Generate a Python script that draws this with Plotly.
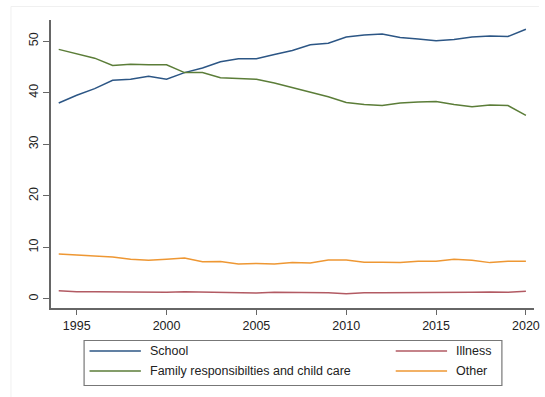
import plotly.graph_objects as go

years = list(range(1994, 2021))

school = [38.0, 39.5, 40.8, 42.4, 42.6, 43.2, 42.6, 43.9, 44.8, 46.0, 46.6, 46.6, 47.4,
          48.2, 49.3, 49.6, 50.8, 51.2, 51.4, 50.7, 50.4, 50.1, 50.3, 50.8, 51.0, 50.9, 52.3]
illness = [1.6, 1.4, 1.4, 1.35, 1.4, 1.3, 1.3, 1.4, 1.3, 1.3, 1.2, 1.15, 1.3,
           1.25, 1.25, 1.2, 1.0, 1.2, 1.2, 1.2, 1.2, 1.25, 1.25, 1.3, 1.35, 1.3, 1.5]
family = [48.4, 47.6, 46.7, 45.3, 45.5, 45.4, 45.4, 43.9, 43.9, 42.9, 42.8, 42.6, 41.9,
          41.0, 40.1, 39.2, 38.1, 37.7, 37.5, 38.0, 38.2, 38.3, 37.7, 37.3, 37.6, 37.5, 35.6]
other = [8.7, 8.55, 8.3, 8.15, 7.7, 7.5, 7.7, 7.95, 7.2, 7.25, 6.8, 6.9, 6.8,
         7.05, 7.0, 7.55, 7.55, 7.1, 7.1, 7.05, 7.3, 7.3, 7.7, 7.5, 7.05, 7.3, 7.3]

x_ticks = [1995, 2000, 2005, 2010, 2015, 2020]
y_ticks = [0, 10, 20, 30, 40, 50]

series = [
    ("School", school, "#2c5685"),
    ("Illness", illness, "#b25a63"),
    ("Family responsibilties and child care", family, "#5b7d38"),
    ("Other", other, "#ee9733"),
]

FONT = "Liberation Sans, Arial, sans-serif"

fig = go.Figure()
for name, vals, color in series:
    fig.add_trace(go.Scatter(x=years, y=vals, mode="lines", name=name,
                             line=dict(color=color, width=1.5), showlegend=False))

fig.update_layout(
    width=545, height=397,
    margin=dict(l=51, r=5, t=20, b=89),
    paper_bgcolor="white", plot_bgcolor="white",
    font=dict(family=FONT, size=12.5, color="#222"),
    xaxis=dict(range=[1993.57, 2020.45], tickvals=x_ticks, showgrid=False, zeroline=False,
               showline=True, linecolor="#666", linewidth=1.5,
               ticks="outside", ticklen=5, tickwidth=1.2, tickcolor="#666",
               ticklabeloverflow="allow"),
    yaxis=dict(range=[-1.75, 54.1], tickvals=y_ticks, showgrid=False, zeroline=False,
               showline=True, linecolor="#666", linewidth=1.5,
               ticks="outside", ticklen=6, tickwidth=1.2, tickcolor="#666",
               tickangle=-90),
)

# pixel -> paper coordinate helpers (plot area spans x 51..540, y 20..308)
pw, ph = 489.0, 288.0
def px(x):
    return (x - 51) / pw
def py(y):
    return (308 - y) / ph

# faint outer frame of the graph region
fig.add_shape(type="line", xref="paper", yref="paper", x0=px(10.5), x1=px(10.5),
              y0=py(397), y1=py(6.5), line=dict(color="#f0f0f0", width=1))
fig.add_shape(type="line", xref="paper", yref="paper", x0=px(10.5), x1=px(545),
              y0=py(6.5), y1=py(6.5), line=dict(color="#f0f0f0", width=1))

# legend box below the plot
fig.add_shape(type="rect", xref="paper", yref="paper",
              x0=px(84.5), x1=px(507.5), y0=py(385.5), y1=py(340.5),
              line=dict(color="#777", width=1.2), fillcolor="white")

legend_pos = {
    "School": (90, 351),
    "Illness": (400, 351),
    "Family responsibilties and child care": (90, 371),
    "Other": (400, 371),
}
for name, vals, color in series:
    lx, ly = legend_pos[name]
    fig.add_shape(type="line", xref="paper", yref="paper",
                  x0=px(lx), x1=px(lx + 52), y0=py(ly), y1=py(ly),
                  line=dict(color=color, width=1.5))
    fig.add_annotation(xref="paper", yref="paper", x=px(lx + 59), y=py(ly),
                       text=name, showarrow=False, xanchor="left", yanchor="middle",
                       font=dict(family=FONT, size=12.5, color="#222"))

fig.write_html("out.html")
